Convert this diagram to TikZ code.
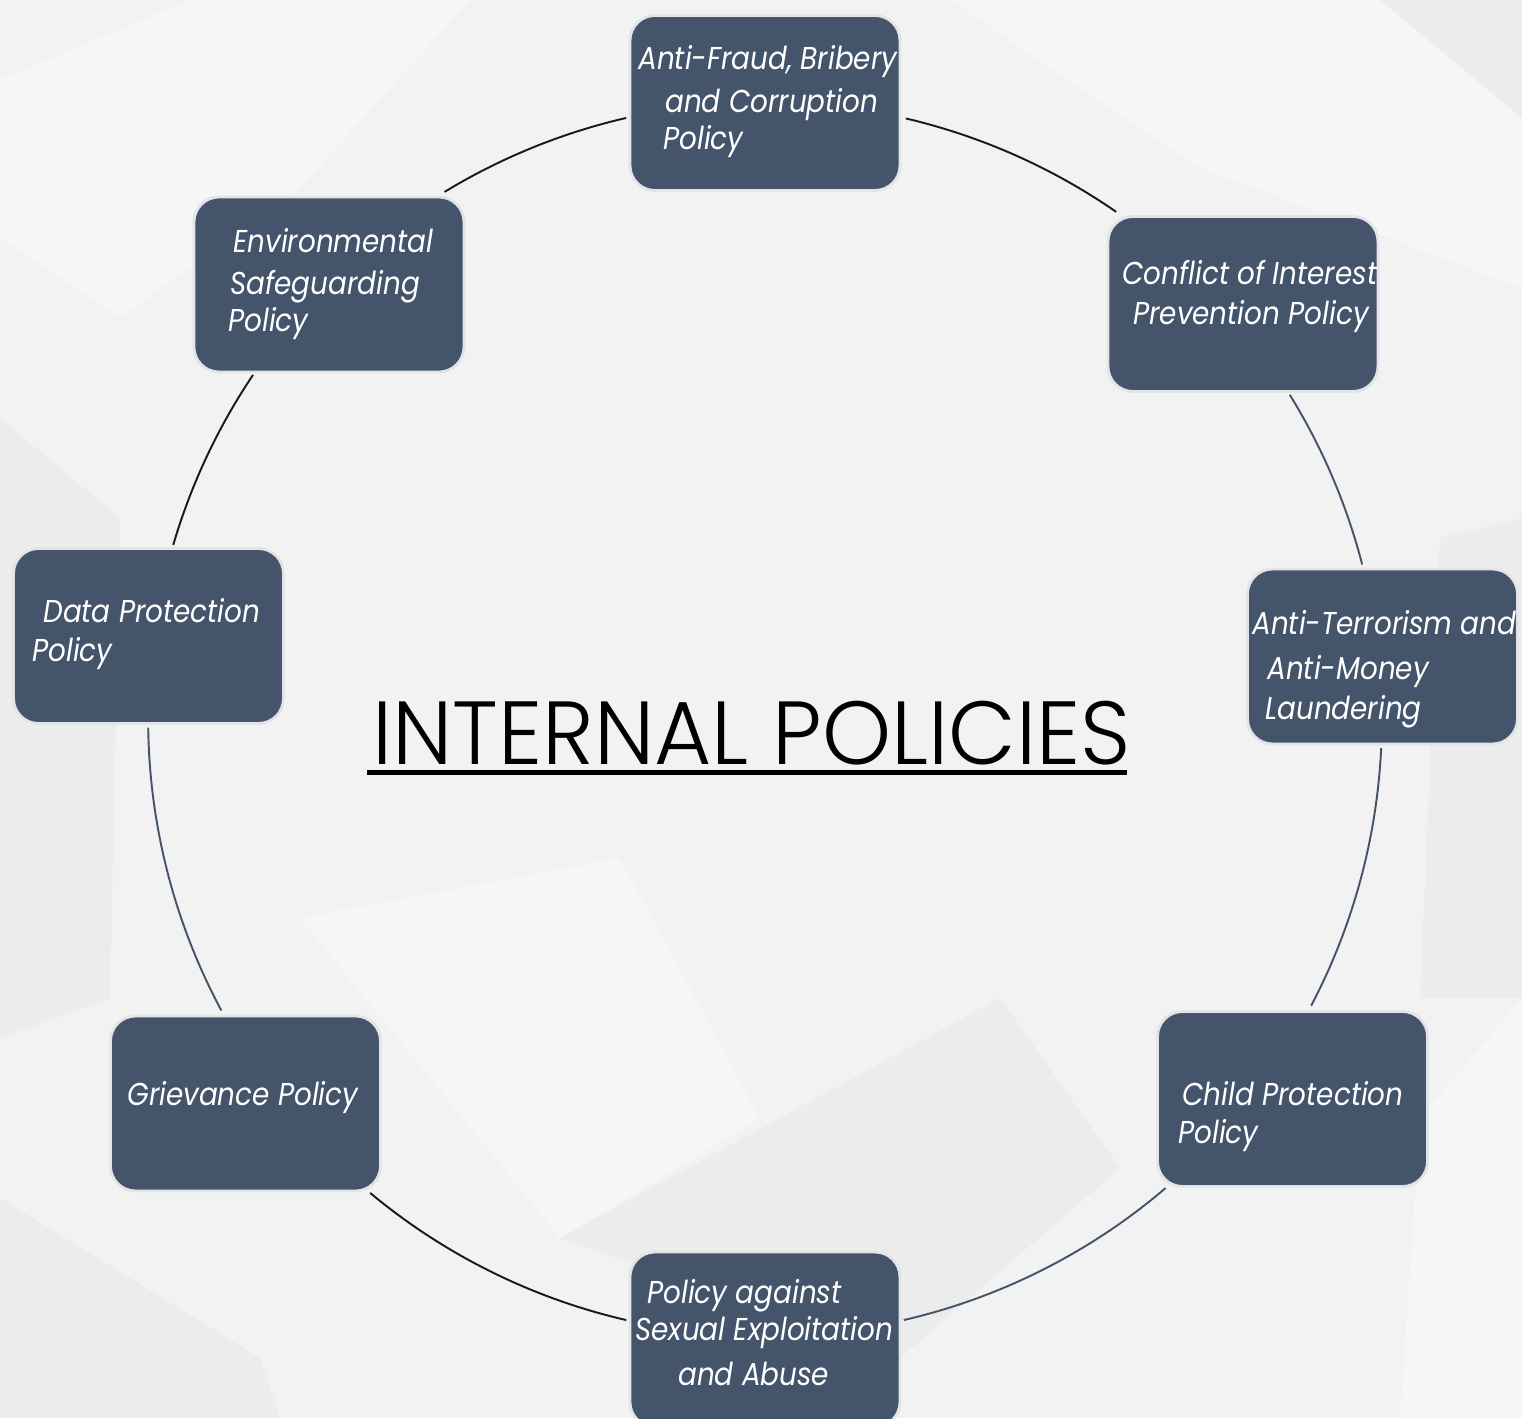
\documentclass[tikz,border=0pt]{standalone}
\usepackage{fontspec}
\newfontfamily\boxfont{Poppins}[FakeStretch=0.88]
\newfontfamily\titlefont{Poppins Light}[FakeStretch=0.98]
\definecolor{slate}{RGB}{68,84,106}
\definecolor{bgbase}{RGB}{242,242,242}
\definecolor{bglight}{RGB}{246,246,246}
\definecolor{bgdark}{RGB}{236,236,236}
\definecolor{boxrim}{RGB}{226,228,231}
\begin{document}
\begin{tikzpicture}[x=0.02cm,y=0.02cm,
  pbox/.style={draw=boxrim,line width=1.6pt,fill=slate,rounded corners=0.5cm,
    minimum width=5.4cm,minimum height=3.5cm,inner sep=0pt},
  ptxt/.style={text=white,font=\boxfont\itshape\fontsize{18pt}{22pt}\selectfont,
    inner sep=0pt,anchor=base west},
  linkdark/.style={draw=black!90,line width=1.1pt},
  linkslate/.style={draw=slate,line width=1.1pt}]
\useasboundingbox (0,0) rectangle (1522,1418);
\clip (0,0) rectangle (1522,1418);
% background
\fill[bgbase] (0,0) rectangle (1522,1418);
\fill[bglight] (0,1338) -- (190,1418) -- (470,1418) -- (300,1230) -- (120,1100) -- (0,1180) -- cycle;
\fill[bgdark] (0,1000) -- (120,900) -- (110,420) -- (0,380) -- cycle;
\fill[bglight] (950,1418) -- (1380,1418) -- (1522,1300) -- (1522,1130) -- (1200,1250) -- cycle;
\fill[bgdark] (1380,1418) -- (1522,1418) -- (1522,1300) -- cycle;
\fill[bgdark] (560,180) -- (1000,420) -- (1120,250) -- (900,60) -- cycle;
\fill[bglight] (300,500) -- (560,180) -- (760,300) -- (620,560) -- cycle;
\fill[bgdark] (0,0) -- (0,220) -- (260,60) -- (280,0) -- cycle;
\fill[bglight] (1400,0) -- (1522,0) -- (1522,420) -- (1420,300) -- cycle;
\fill[bgdark] (1420,420) -- (1522,420) -- (1522,900) -- (1440,880) -- cycle;

\coordinate (c) at (765,699);

% boxes
\node[pbox] (b1) at (765,1315) {};
\node[pbox] (b2) at (1243,1114) {};
\node[pbox] (b3) at (1382.5,761.5) {};
\node[pbox] (b4) at (1292.5,319) {};
\node[pbox] (b5) at (765,78.5) {};
\node[pbox] (b6) at (245.5,314.5) {};
\node[pbox] (b7) at (148.5,782) {};
\node[pbox] (b8) at (329,1133.5) {};

% connectors (arcs of the cycle)
\draw[linkdark]  (c) ++(76.8:12.34cm) arc[start angle=76.8,end angle=55.3,radius=12.34cm];
\draw[linkslate] (c) ++(31.7:12.34cm) arc[start angle=31.7,end angle=14.5,radius=12.34cm];
\draw[linkslate] (c) ++(-2.7:12.34cm) arc[start angle=-2.7,end angle=-27.7,radius=12.34cm];
\draw[linkslate] (c) ++(-49.5:12.34cm) arc[start angle=-49.5,end angle=-77,radius=12.34cm];
\draw[linkdark]  (c) ++(-103:12.34cm) arc[start angle=-103,end angle=-129.8,radius=12.34cm];
\draw[linkslate] (c) ++(208.2:12.34cm) arc[start angle=208.2,end angle=180.8,radius=12.34cm];
\draw[linkdark]  (c) ++(163.6:12.34cm) arc[start angle=163.6,end angle=146.1,radius=12.34cm];
\draw[linkdark]  (c) ++(121.3:12.34cm) arc[start angle=121.3,end angle=103,radius=12.34cm];

% texts
\node[ptxt] (t1a) at (638,1348) {Anti-Fraud, Bribery};
\node[ptxt] (t1b) at (665,1305) {and Corruption};
\node[ptxt] (t1c) at (663,1268) {Policy};
\node[ptxt] (t2a) at (1122,1133) {Conflict of Interest};
\node[ptxt] (t2b) at (1133,1093) {Prevention Policy};
\node[ptxt] (t3a) at (1252,783) {Anti-Terrorism and};
\node[ptxt] (t3b) at (1267,738) {Anti-Money};
\node[ptxt] (t3c) at (1265,698) {Laundering};
\node[ptxt] (t4a) at (1182,313) {Child Protection};
\node[ptxt] (t4b) at (1178,275) {Policy};
\node[ptxt] (t5a) at (647,115) {Policy against};
\node[ptxt] (t5b) at (635,78) {Sexual Exploitation};
\node[ptxt] (t5c) at (678,33) {and Abuse};
\node[ptxt] (t6a) at (127,313) {Grievance Policy};
\node[ptxt] (t7a) at (43,795) {Data Protection};
\node[ptxt] (t7b) at (32,756) {Policy};
\node[ptxt] (t8a) at (233,1165) {Environmental};
\node[ptxt] (t8b) at (230,1123) {Safeguarding};
\node[ptxt] (t8c) at (228,1086) {Policy};

% title
\node[font=\titlefont\fontsize{51pt}{60pt}\selectfont,inner sep=0pt,anchor=base west] (title) at (372,653) {INTERNAL POLICIES};
\draw[line width=0.1cm] (367,645) -- (1127,645);
\end{tikzpicture}
\end{document}
